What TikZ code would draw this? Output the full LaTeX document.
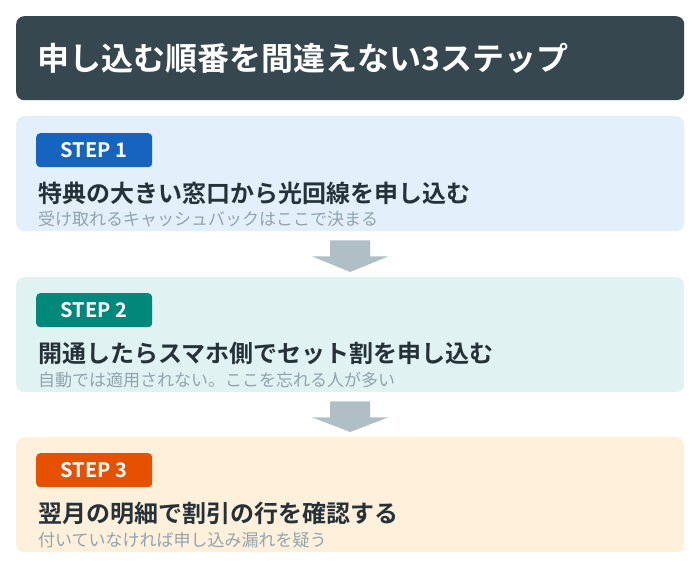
\documentclass[tikz,border=0pt]{standalone}
\usepackage{fontspec}
\newfontfamily\cjk{Noto Sans CJK JP}
\newfontfamily\cjkb{Noto Sans CJK JP Bold}
\usetikzlibrary{calc,positioning}
\definecolor{titlebg}{HTML}{37474F}
\definecolor{ink}{HTML}{263238}
\definecolor{sub}{HTML}{90A4AE}
\definecolor{arrowc}{HTML}{B0BEC5}
\definecolor{bg1}{HTML}{E3F0FB}
\definecolor{bg2}{HTML}{E0F2F1}
\definecolor{bg3}{HTML}{FFF0DC}
\definecolor{tag1}{HTML}{1565C0}
\definecolor{tag2}{HTML}{00897B}
\definecolor{tag3}{HTML}{E65100}
\begin{document}
\begin{tikzpicture}[x=1pt,y=-1pt,
     box/.style = {rounded corners=8pt, minimum width=668pt, minimum height=115pt, inner sep=0pt, anchor=north west},
     badge/.style = {rounded corners=4pt, text=white, font=\fontsize{20}{20}\cjkb, minimum width=116pt, minimum height=34pt, inner sep=0pt, anchor=north west},
     head/.style = {anchor=west, inner sep=0pt, text=ink, font=\fontsize{24}{24}\cjkb},
     note/.style = {anchor=west, inner sep=0pt, text=sub, font=\fontsize{17}{17}\cjk}
    ]
    \useasboundingbox (0,0) rectangle (700,572);
    % title
    \node [box, minimum height=84pt, fill=titlebg] (title) at (16,16) {};
    \node [anchor=west, inner sep=0pt, text=white, font=\fontsize{32}{32}\cjkb] (ttext) at (37,58) {申し込む順番を間違えない3ステップ};
    % steps
    \node [box, fill=bg1] (s1) at (16,116) {};
    \node [box, fill=bg2] (s2) at (16,277) {};
    \node [box, fill=bg3] (s3) at (16,437) {};
    \node [badge, fill=tag1] (b1) at (36,133) {STEP 1};
    \node [badge, fill=tag2] (b2) at (36,293) {STEP 2};
    \node [badge, fill=tag3] (b3) at (36,453) {STEP 3};
    \node [head] (h1) at (38,193) {特典の大きい窓口から光回線を申し込む};
    \node [head] (h2) at (38,353) {開通したらスマホ側でセット割を申し込む};
    \node [head] (h3) at (38,513) {翌月の明細で割引の行を確認する};
    \node [note] (n1) at (38,219) {受け取れるキャッシュバックはここで決まる};
    \node [note] (n2) at (38,380) {自動では適用されない。ここを忘れる人が多い};
    \node [note] (n3) at (38,540) {付いていなければ申し込み漏れを疑う};
    % arrows
    \foreach \a/\b in {s1/s2, s2/s3} {
      \fill [arrowc] ($(\a.south)+(-20,9)$) -- ++(40,0) -- ++(0,16) -- ++(18,0)
        -- ($(\b.north)+(0,-5)$) -- ($(\a.south)+(-38,25)$) -- ++(18,0) -- cycle;
    }
\end{tikzpicture}
\end{document}
